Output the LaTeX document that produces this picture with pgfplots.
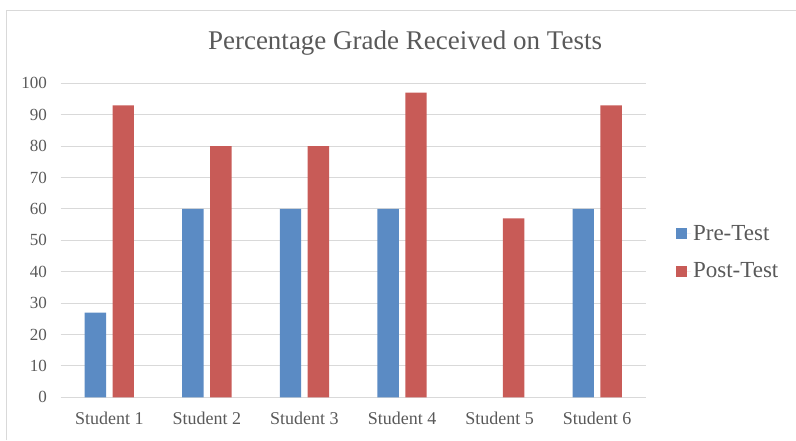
\documentclass[border=0pt]{standalone}
\usepackage{fontspec}
\setmainfont{Liberation Serif}
\usepackage{pgfplots}
\pgfplotsset{compat=1.18}
\definecolor{preblue}{HTML}{5B8BC4}
\definecolor{postred}{HTML}{C85B57}
\definecolor{gridgray}{HTML}{D9D9D9}
\definecolor{txtgray}{HTML}{595959}
\begin{document}
\begin{tikzpicture}[x=1pt,y=1pt]
\path[use as bounding box] (0,0) rectangle (796,440);
\draw[gridgray, line width=1pt] (6,0) -- (6,429) -- (796,429);
\node[anchor=base, text=txtgray, font=\fontsize{27}{32}\selectfont, inner sep=0pt] at (405,390) {Percentage Grade Received on Tests};
\begin{axis}[
  at={(60.5pt,42.7pt)}, anchor=south west,
  scale only axis, width=585.5pt, height=314pt,
  xmin=-0.5, xmax=5.5, ymin=0, ymax=100,
  axis line style={draw=none},
  major tick length=0pt,
  ytick={0,10,...,100},
  ymajorgrids,
  grid style={gridgray, line width=1pt},
  xtick={0,1,2,3,4,5},
  xticklabels={Student 1,Student 2,Student 3,Student 4,Student 5,Student 6},
  xticklabel style={font=\fontsize{18}{21}\selectfont, text=txtgray, yshift=-11pt},
  yticklabel style={font=\fontsize{17}{20}\selectfont, text=txtgray, xshift=-10pt},
  /pgf/number format/assume math mode=true,
  legend style={at={(1.051,0.462)}, anchor=west, draw=none, fill=none,
    font=\fontsize{23}{27}\selectfont, text=txtgray, row sep=17pt, inner sep=0pt},
  legend cell align=left,
]
\addplot[ybar, bar width=0.22, bar shift=-0.143, fill=preblue, draw=none,
  legend image code/.code={\fill[preblue] (0pt,-5.5pt) rectangle (11pt,5.5pt); \path (0pt,0pt) -- (15pt,0pt);}]
  coordinates {(0,27) (1,60) (2,60) (3,60) (5,60)};
\addlegendentry{Pre-Test}
\addplot[ybar, bar width=0.22, bar shift=0.143, fill=postred, draw=none,
  legend image code/.code={\fill[postred] (0pt,-5.5pt) rectangle (11pt,5.5pt); \path (0pt,0pt) -- (15pt,0pt);}]
  coordinates {(0,93) (1,80) (2,80) (3,97) (4,57) (5,93)};
\addlegendentry{Post-Test}
\end{axis}
\end{tikzpicture}
\end{document}
